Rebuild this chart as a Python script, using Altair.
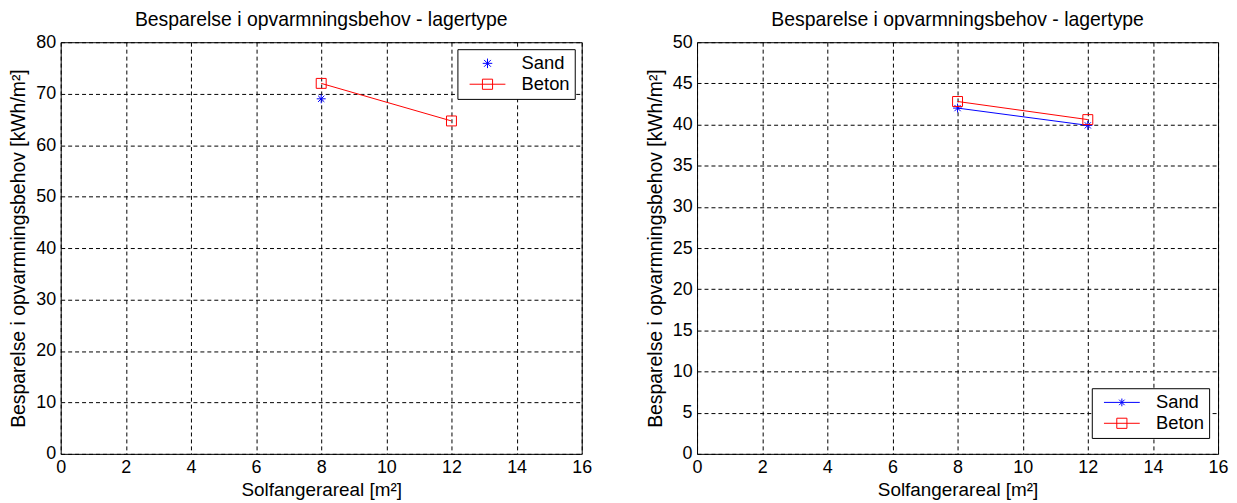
import altair as alt
import pandas as pd

# ---- data ----
series_names = ["Sand", "Beton"]
series_colors = ["#0000ff", "#ff0000"]

left_sand_x = [8]
left_sand_y = [69.0]
left_beton_x = [8, 12]
left_beton_y = [72.0, 64.7]

right_sand_x = [8, 12]
right_sand_y = [42.0, 39.9]
right_beton_x = [8, 12]
right_beton_y = [42.8, 40.6]

x_ticks = [0, 2, 4, 6, 8, 10, 12, 14, 16]
left_y_ticks = [0, 10, 20, 30, 40, 50, 60, 70, 80]
right_y_ticks = [0, 5, 10, 15, 20, 25, 30, 35, 40, 45, 50]

title_text = "Besparelse i opvarmningsbehov - lagertype"
x_title = "Solfangerareal [m²]"
y_title = "Besparelse i opvarmningsbehov [kWh/m²]"

FONT = "Liberation Sans"
ASTERISK = "M0,-1V1M-1,0H1M-0.7,-0.7L0.7,0.7M-0.7,0.7L0.7,-0.7"
LEG_AST_ONLY = "M0,-0.8V0.8M-0.8,0H0.8M-0.57,-0.57L0.57,0.57M-0.57,0.57L0.57,-0.57"
LEG_AST_LINE = "M-3,0H3M0,-0.65V0.65M-0.46,-0.46L0.46,0.46M-0.46,0.46L0.46,-0.46"
LEG_SQ_LINE = "M-3,0H3M-0.85,-0.85H0.85V0.85H-0.85Z"


def make_df(sx, sy, bx, by):
    rows = [{"series": "Sand", "x": a, "y": b} for a, b in zip(sx, sy)]
    rows += [{"series": "Beton", "x": a, "y": b} for a, b in zip(bx, by)]
    return pd.DataFrame(rows)


def panel(df, y_ticks, legend_paths, legend_x, legend_y):
    xenc = alt.X("x:Q", scale=alt.Scale(domain=[0, 16], nice=False),
                 axis=alt.Axis(values=x_ticks, title=x_title, format="d"))
    yenc = alt.Y("y:Q", scale=alt.Scale(domain=[0, y_ticks[-1]], nice=False),
                 axis=alt.Axis(values=y_ticks, title=y_title, format="d",
                               titleFontSize=19.5))
    base = alt.Chart(df).encode(x=xenc, y=yenc)

    sand = base.transform_filter(alt.datum.series == "Sand")
    beton = base.transform_filter(alt.datum.series == "Beton")

    sand_line = sand.mark_line(strokeWidth=1, color=series_colors[0])
    beton_line = beton.mark_line(strokeWidth=1, color=series_colors[1])
    sand_pts = sand.mark_point(shape=ASTERISK, size=81, filled=False, strokeWidth=1,
                               opacity=1, color=series_colors[0])
    beton_pts = beton.mark_point(shape="square", size=100, filled=False, strokeWidth=1,
                                 opacity=1, color=series_colors[1])

    leg = alt.Legend(
        orient="none", legendX=legend_x, legendY=legend_y, title=None,
        fillColor="white", strokeColor="black", padding=5, rowPadding=2,
        symbolSize=144, symbolStrokeWidth=1, symbolOpacity=1, symbolOffset=16,
        labelOffset=25, labelFont=FONT, labelFontSize=18.5, labelColor="black",
        labelExpr="datum.label + '\u00a0\u00a0'", direction="vertical",
    )
    legend_layer = base.mark_point(opacity=0, filled=False).encode(
        color=alt.Color("series:N", scale=alt.Scale(domain=series_names, range=series_colors), legend=leg),
        shape=alt.Shape("series:N", scale=alt.Scale(domain=series_names, range=legend_paths), legend=leg),
    )
    return alt.layer(sand_line, beton_line, sand_pts, beton_pts, legend_layer).properties(
        width=524, height=414, title=alt.Title(title_text))


left = panel(make_df(left_sand_x, left_sand_y, left_beton_x, left_beton_y),
             left_y_ticks, [LEG_AST_ONLY, LEG_SQ_LINE], 399, 7)
right = panel(make_df(right_sand_x, right_sand_y, right_beton_x, right_beton_y),
              right_y_ticks, [LEG_AST_LINE, LEG_SQ_LINE], 397, 348)

chart = alt.hconcat(left, right, spacing=52).resolve_scale(
    color="independent", shape="independent"
).resolve_legend(
    color="independent", shape="independent"
).properties(padding=0).configure_view(
    stroke="black", strokeWidth=1
).configure_axis(
    grid=True, gridColor="#000", gridDash=[4, 3], gridOpacity=1, gridWidth=1,
    domain=False, ticks=False, labelFont=FONT, labelFontSize=18, labelColor="#000",
    labelPadding=5, labelFlush=False, labelOverlap=False,
    titleFont=FONT, titleFontSize=19, titleFontWeight="normal", titleColor="#000",
).configure_axisX(titlePadding=4).configure_axisY(titlePadding=7).configure_title(
    font=FONT, fontSize=19.5, fontWeight="normal", color="#000", offset=3, anchor="middle"
)

chart.save("out.html", embed_options={"renderer": "svg", "actions": False})
